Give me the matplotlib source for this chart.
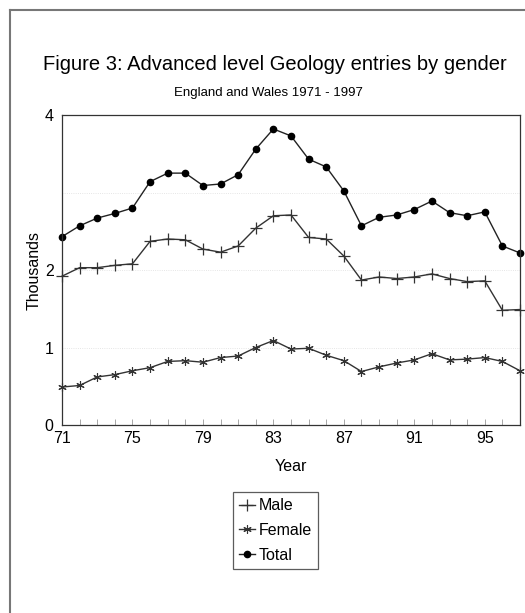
import matplotlib.pyplot as plt
from matplotlib.lines import Line2D

plt.rcParams['font.family'] = ['Liberation Sans', 'DejaVu Sans']

years = list(range(71, 98))
total = [2.43, 2.57, 2.67, 2.73, 2.80, 3.14, 3.25, 3.25, 3.09, 3.11, 3.23, 3.56, 3.82, 3.73,
         3.43, 3.33, 3.02, 2.57, 2.68, 2.71, 2.78, 2.89, 2.74, 2.70, 2.75, 2.31, 2.22]
male = [1.92, 2.03, 2.03, 2.06, 2.08, 2.37, 2.40, 2.39, 2.27, 2.23, 2.31, 2.54, 2.70, 2.71,
        2.42, 2.40, 2.18, 1.87, 1.91, 1.89, 1.91, 1.95, 1.89, 1.85, 1.86, 1.48, 1.49]
female = [0.49, 0.51, 0.62, 0.65, 0.70, 0.74, 0.82, 0.83, 0.81, 0.87, 0.89, 1.00, 1.09, 0.98,
          0.99, 0.90, 0.83, 0.69, 0.75, 0.80, 0.84, 0.92, 0.84, 0.85, 0.87, 0.82, 0.70]
xtick_years = [71, 75, 79, 83, 87, 91, 95]
ytick_vals = [0, 1, 2, 4]

W, H = 525, 613
fig = plt.figure(figsize=(W / 100, H / 100), dpi=100)

# page frame (top and left edges of the scanned box)
fig.add_artist(Line2D([10 / W, 10 / W], [0, 1 - 10 / H], transform=fig.transFigure, color='#777777', lw=1.5))
fig.add_artist(Line2D([10 / W, 1], [1 - 10 / H, 1 - 10 / H], transform=fig.transFigure, color='#777777', lw=1.5))

ax = fig.add_axes([62 / W, 1 - 425 / H, (520 - 62) / W, (425 - 115) / H])

ax.plot(years, male, color='#333333', lw=1, marker='+', ms=8, mew=0.9, label='Male', clip_on=False)
ax.plot(years, female, color='#333333', lw=1, marker=(6, 2, 0), ms=6, mew=0.8, label='Female', clip_on=False)
ax.plot(years, total, color='#222222', lw=1, marker='o', ms=4.5, mfc='black', mec='black', label='Total',
        clip_on=False)

ax.set_xlim(71, 97)
ax.set_ylim(0, 4)
ax.set_xticks(years, minor=True)
ax.set_xticks(xtick_years)
ax.set_xticklabels([str(y) for y in xtick_years])
ax.set_yticks(ytick_vals)
ax.set_yticklabels([str(v) for v in ytick_vals])
for v in [1, 2, 3]:
    ax.axhline(v, color='#dddddd', lw=0.6, ls=':', zorder=0)
ax.tick_params(axis='x', which='both', direction='in', length=4, width=0.6, color='#999999', labelsize=11.5, pad=4)
ax.tick_params(axis='y', length=0, labelsize=11.5, pad=6)
for s in ax.spines.values():
    s.set_color('#333333')
    s.set_linewidth(0.9)

ax.set_xlabel('Year', fontsize=11.5, labelpad=10)
ax.set_ylabel('Thousands', fontsize=11.5, labelpad=2)

fig.text(275 / W, 1 - 65 / H, 'Figure 3: Advanced level Geology entries by gender',
         ha='center', va='center', fontsize=14.5)
fig.text(268 / W, 1 - 93 / H, 'England and Wales 1971 - 1997', ha='center', va='center', fontsize=9.5)

leg = ax.legend(loc='upper left', bbox_to_anchor=(233 / W, 1 - 492 / H), bbox_transform=fig.transFigure,
                frameon=True, fancybox=False, handlelength=1.0, handletextpad=0.2,
                borderpad=0.4, labelspacing=0.6, fontsize=11.5, borderaxespad=0)
leg.get_frame().set_edgecolor('#333333')
leg.get_frame().set_linewidth(0.9)

fig.savefig('out.png', dpi=100)
